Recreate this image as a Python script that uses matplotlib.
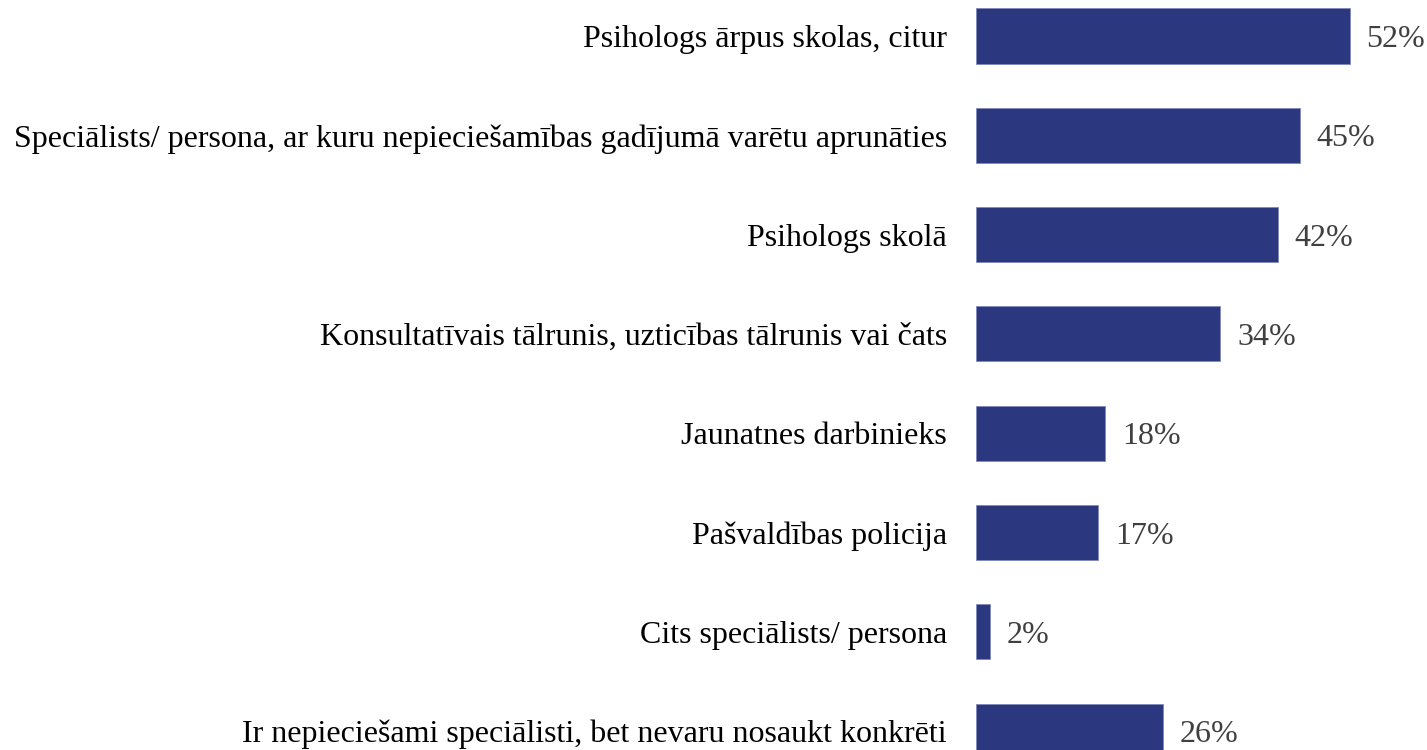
import matplotlib.pyplot as plt

# Data
categories = [
    'Psihologs ārpus skolas, citur',
    'Speciālists/ persona, ar kuru nepieciešamības gadījumā varētu aprunāties',
    'Psihologs skolā',
    'Konsultatīvais tālrunis, uzticības tālrunis vai čats',
    'Jaunatnes darbinieks',
    'Pašvaldības policija',
    'Cits speciālists/ persona',
    'Ir nepieciešami speciālisti, bet nevaru nosaukt konkrēti',
]
values = [52, 45, 42, 34, 18, 17, 2, 26]

bar_color = '#2B3880'
label_color = '#404040'

plt.rcParams['font.family'] = ['Liberation Serif', 'DejaVu Serif']

fw, fh = 14.27, 7.5
fig = plt.figure(figsize=(fw, fh), dpi=100)
W, H = 1427, 750
left_px = 976
ax = fig.add_axes([left_px / W, 0, 1 - left_px / W, 1])

pos = list(range(len(categories)))
ax.barh(pos, values, height=0.555, color=bar_color, edgecolor='#7F88B8', linewidth=0.6)

px_per_unit = 7.19
ax.set_xlim(0, (W - left_px) / px_per_unit)
step = 99.3
ax.set_ylim((H - 36) / step, -36 / step)

ax.set_yticks(pos)
ax.set_yticklabels(categories, fontsize=23)
ax.tick_params(axis='y', length=0, pad=21)
ax.set_xticks([])
for s in ax.spines.values():
    s.set_visible(False)

for p, v in zip(pos, values):
    ax.text(v + 2.3, p, '%d%%' % v, va='center_baseline', ha='left', fontsize=23, color=label_color)

fig.savefig('out.png', dpi=100)
